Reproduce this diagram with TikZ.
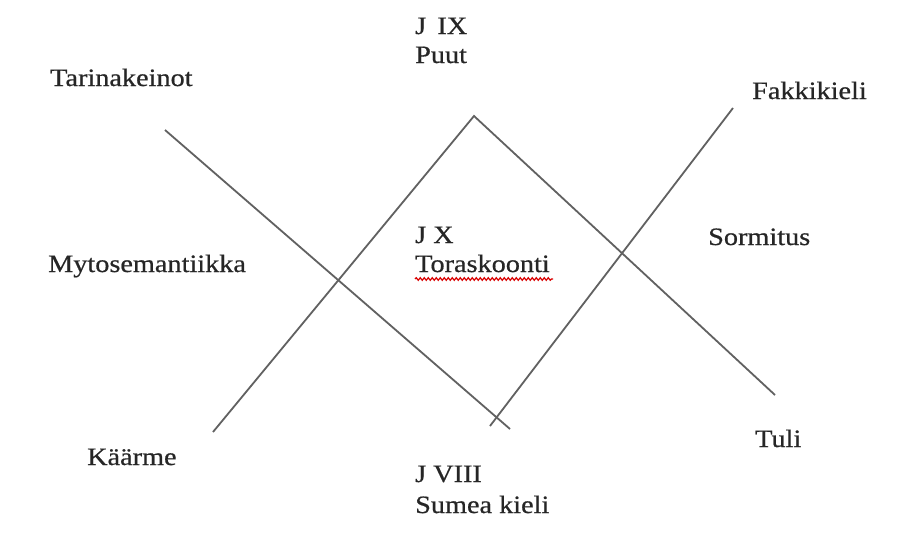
\documentclass[tikz,border=0pt]{standalone}
\usepackage{fontspec}
\setmainfont[FakeStretch=1.13,FakeBold=0.6]{Liberation Serif}
\usetikzlibrary{decorations.pathmorphing}
\begin{document}
\begin{tikzpicture}[x=1pt,y=-1pt,
  lbl/.style={anchor=base west,inner sep=0pt,font=\fontsize{25}{30}\selectfont,text=black!85},
  ln/.style={draw=black!62,line width=1.8pt},
  squig/.style={draw=red!85!black,line width=1.2pt,decorate,decoration={snake,amplitude=1.3pt,segment length=4pt}}]
\useasboundingbox[fill=white] (0,0) rectangle (912,538);
% line end points
\coordinate (a1) at (165,130);
\coordinate (a2) at (510,429);
\coordinate (b1) at (213,432);
\coordinate (peak) at (474,116);
\coordinate (c2) at (775,395);
\coordinate (d1) at (490,426);
\coordinate (d2) at (733,108);
\draw[ln] (a1) -- (a2);
\draw[ln] (b1) -- (peak) -- (c2);
\draw[ln] (d1) -- (d2);
% labels
\node[lbl] (tar) at (50,86) {Tarinakeinot};
\node[lbl] (jix) at (415,34) {J\, IX};
\node[lbl] (puut) at (415,63) {Puut};
\node[lbl] (fak) at (752,99) {Fakkikieli};
\node[lbl] (jx) at (415,243) {J X};
\node[lbl] (tor) at (415,272) {Toraskoonti};
\coordinate (sq1) at (415,279);
\coordinate (sq2) at (553,279);
\draw[squig] (sq1) -- (sq2);
\node[lbl] (sor) at (708,245) {Sormitus};
\node[lbl] (myt) at (48,272) {Mytosemantiikka};
\node[lbl] (kaa) at (87,465) {Käärme};
\node[lbl] (tuli) at (755,447) {Tuli};
\node[lbl] (jviii) at (415,482) {J VIII};
\node[lbl] (sum) at (415,513) {Sumea kieli};
\end{tikzpicture}
\end{document}
